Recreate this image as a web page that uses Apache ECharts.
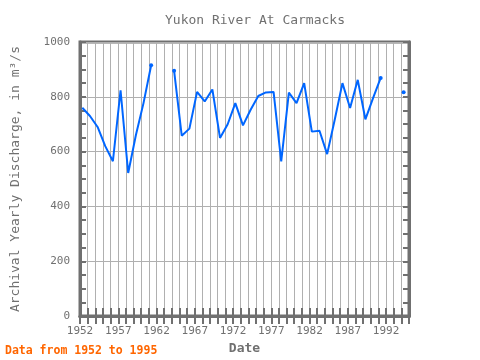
<!DOCTYPE html>
<html>
<head>
<meta charset="utf-8">
<script src="https://cdn.jsdelivr.net/npm/echarts@6/dist/echarts.min.js"></script>
<style>html,body{margin:0;padding:0;background:#fff}#c{width:480px;height:360px}</style>
</head>
<body>
<div id="c"></div>
<script>
const years = [1952,1953,1954,1955,1956,1957,1958,1959,1960,1961,1962,1963,1964,1965,1966,1967,1968,1969,1970,1971,1972,1973,1974,1975,1976,1977,1978,1979,1980,1981,1982,1983,1984,1985,1986,1987,1988,1989,1990,1991,1992,1993,1994];
const discharge = [760,730,690,620,565,824,522,660,777,915,null,null,895,658,684,818,783,827,650,700,777,696,753,803,816,818,564,815,777,850,673,676,591,717,850,759,862,718,795,869,null,null,817];
const xTickLabels = ['1952','1957','1962','1967','1972','1977','1982','1987','1992'];
const yTickLabels = ['0','200','400','600','800','1000'];

const yearOffset = 0.3;
const data = years.map((y, i) => [y + yearOffset, discharge[i]]);
const isEnd = discharge.map((v, i) => v != null && ((i > 0 && discharge[i-1] == null) || i === discharge.length - 1 || (i < discharge.length - 1 && discharge[i+1] == null)));

const mono = 'DejaVu Sans Mono';
const gray = '#707070';
const chart = echarts.init(document.getElementById('c'), null, {renderer: 'canvas'});
chart.setOption({
  animation: false,
  title: {
    text: 'Yukon River At Carmacks', left: 250, top: 9, textAlign: 'center',
    textStyle: {fontFamily: mono, fontSize: 13, fontWeight: 'normal', color: gray}
  },
  grid: {left: 80, right: 71, top: 42, bottom: 38, show: true, borderColor: gray, borderWidth: 3},
  xAxis: [{
    type: 'value', min: 1952, max: 1995, interval: 1,
    axisLine: {show: true, lineStyle: {color: gray, width: 3}},
    axisTick: {show: true, inside: true, length: 8, lineStyle: {color: gray, width: 2}},
    axisLabel: {
      fontFamily: mono, fontSize: 11, color: gray, margin: 10,
      formatter: v => xTickLabels.indexOf(String(v)) >= 0 ? String(v) : ''
    },
    splitLine: {show: true, lineStyle: {color: '#b0b0b0', width: 1}},
    name: 'Date', nameLocation: 'middle', nameGap: 25,
    nameTextStyle: {fontFamily: mono, fontSize: 13, fontWeight: 'bold', color: gray}
  }, {
    type: 'value', min: 1952, max: 1995, interval: 1, position: 'top',
    axisLine: {show: true, lineStyle: {color: gray, width: 3}},
    axisTick: {show: true, inside: true, length: 8, lineStyle: {color: gray, width: 2}},
    axisLabel: {show: false}, splitLine: {show: false}
  }],
  yAxis: [{
    type: 'value', min: 0, max: 1000, interval: 200,
    axisLine: {show: true, lineStyle: {color: gray, width: 3}},
    axisTick: {show: true, inside: true, length: 6, lineStyle: {color: gray, width: 2}},
    minorTick: {show: true, splitNumber: 4, length: 6, lineStyle: {color: gray, width: 2}},
    axisLabel: {
      fontFamily: mono, fontSize: 11, color: gray, margin: 10,
      formatter: v => yTickLabels.indexOf(String(v)) >= 0 ? String(v) : ''
    },
    splitLine: {show: true, lineStyle: {color: '#b0b0b0', width: 1}},
    name: 'Archival Yearly Discharge, in m\u00b3/s', nameLocation: 'middle', nameGap: 58,
    nameTextStyle: {fontFamily: mono, fontSize: 13, color: gray}
  }, {
    type: 'value', min: 0, max: 1000, interval: 200, position: 'right',
    axisLine: {show: true, lineStyle: {color: gray, width: 3}},
    axisTick: {show: true, inside: true, length: 6, lineStyle: {color: gray, width: 2}},
    minorTick: {show: true, splitNumber: 4, length: 6, lineStyle: {color: gray, width: 2}},
    axisLabel: {show: false}, splitLine: {show: false}
  }],
  series: [{
    type: 'line', data: data, connectNulls: false,
    symbol: 'circle', showAllSymbol: true,
    symbolSize: (v, p) => isEnd[p.dataIndex] ? 4 : 0,
    lineStyle: {color: '#0066ff', width: 2},
    itemStyle: {color: '#0066ff'}
  }],
  graphic: [{
    type: 'text', left: 5, top: 345,
    style: {text: 'Data from 1952 to 1995', fontFamily: mono, fontSize: 11.5, fontWeight: 'bold', fill: '#ff6600'}
  }]
});
</script>
</body>
</html>
